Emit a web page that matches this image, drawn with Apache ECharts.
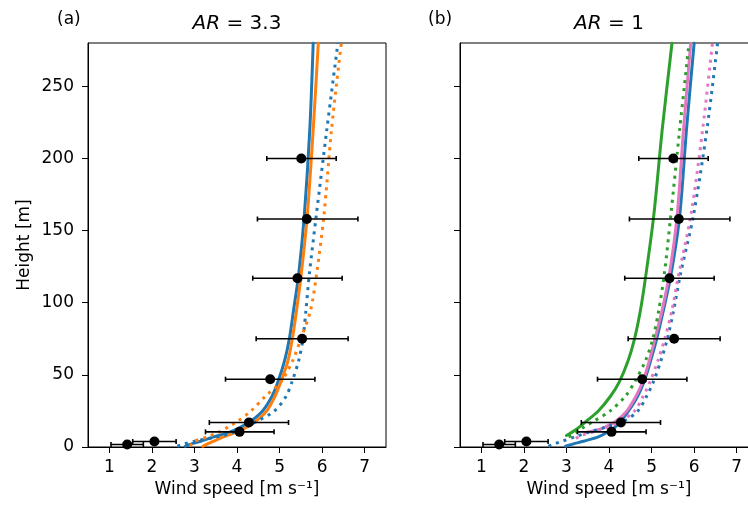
<!DOCTYPE html>
<html>
<head>
<meta charset="utf-8">
<script src="https://cdn.jsdelivr.net/npm/echarts@6/dist/echarts.min.js"></script>
<style>
  html, body { margin: 0; padding: 0; background: #fff; }
  #chart { width: 748px; height: 507px; }
</style>
</head>
<body>
<div id="chart"></div>
<script>
// heights [m] for the model profiles
const HEIGHTS = [0.5, 2, 4, 7, 10, 14, 18, 25, 35, 45, 60, 75, 95, 120, 160, 220, 280];

// (a) AR = 3.3 — wind speed [m/s] at HEIGHTS
const aBlueSolid = [2.78, 2.92, 3.15, 3.45, 3.8, 4.1, 4.33, 4.6, 4.82, 4.96, 5.12, 5.23, 5.33, 5.45, 5.58, 5.71, 5.79];
const aOrangeSolid = [3.2, 3.3, 3.45, 3.68, 3.95, 4.25, 4.45, 4.7, 4.89, 5.03, 5.2, 5.3, 5.4, 5.51, 5.65, 5.79, 5.91];
const aBlueDotted = [2.6, 2.75, 3.0, 3.52, 3.9, 4.18, 4.48, 4.88, 5.15, 5.29, 5.45, 5.55, 5.62, 5.7, 5.86, 6.11, 6.37];
const aOrangeDotted = [2.9, 2.93, 3.0, 3.3, 3.55, 3.8, 4.02, 4.33, 4.66, 5.03, 5.31, 5.5, 5.73, 5.87, 6.04, 6.22, 6.45];

// (b) AR = 1
const bBlueSolid = [2.98, 3.15, 3.4, 3.75, 3.95, 4.15, 4.28, 4.46, 4.67, 4.82, 4.98, 5.12, 5.28, 5.46, 5.66, 5.82, 6.0];
const bBlueDotted = [2.58, 2.7, 2.9, 3.2, 3.5, 3.95, 4.35, 4.68, 4.88, 5.04, 5.22, 5.37, 5.52, 5.68, 5.98, 6.3, 6.55];
const pinkSolidH = [10, 12, 14, 18, 25, 35, 45, 60, 75, 95, 120, 160, 220, 280];
const bPinkSolid = [3.45, 3.75, 3.92, 4.17, 4.42, 4.63, 4.79, 4.95, 5.08, 5.25, 5.42, 5.6, 5.75, 5.92];
const pinkDottedH = [6, 8, 12, 18, 25, 35, 45, 60, 75, 95, 120, 160, 220, 280];
const bPinkDotted = [3.22, 3.35, 3.8, 4.28, 4.6, 4.8, 4.96, 5.15, 5.31, 5.48, 5.64, 5.92, 6.2, 6.43];
const greenSolidH = [8, 12, 18, 25, 35, 45, 60, 75, 95, 120, 160, 220, 280];
const bGreenSolid = [3.0, 3.22, 3.47, 3.75, 4.03, 4.24, 4.45, 4.6, 4.74, 4.87, 5.05, 5.25, 5.48];
const greenDottedH = [7, 10, 14, 18, 25, 35, 45, 60, 75, 95, 120, 160, 220, 280];
const bGreenDotted = [3.05, 3.22, 3.42, 3.65, 4.03, 4.38, 4.6, 4.86, 5.03, 5.17, 5.3, 5.45, 5.66, 5.88];

// observations (same in both panels)
const obsH = [200, 158, 117, 75, 47, 17, 10.5, 3.8, 1.7];
const obsV = [5.51, 5.64, 5.42, 5.53, 4.78, 4.28, 4.06, 2.06, 1.42];
const obsLo = [4.70, 4.48, 4.37, 4.45, 3.73, 3.35, 3.26, 1.55, 1.04];
const obsHi = [6.33, 6.84, 6.47, 6.61, 5.83, 5.21, 4.87, 2.57, 1.80];

const X_TICKS = [1, 2, 3, 4, 5, 6, 7];
const Y_TICKS = [0, 50, 100, 150, 200, 250];

const FONT = 'DejaVu Sans';
const BLUE = '#1f77b4', ORANGE = '#ff7f0e', GREEN = '#2ca02c', PINK = '#e377c2';

const chart = echarts.init(document.getElementById('chart'), null, { renderer: 'canvas' });

function profile(name, idx, heights, values, color, dotted, z) {
  return {
    type: 'line',
    name,
    xAxisIndex: idx,
    yAxisIndex: idx,
    data: heights.map((h, i) => [values[i], h]),
    smooth: 0.3,
    showSymbol: false,
    symbol: 'none',
    animation: false,
    z: z,
    lineStyle: {
      color,
      width: 3,
      opacity: 1,
      type: dotted ? [3, 5] : 'solid',
      cap: dotted ? 'butt' : 'round',
      join: 'round'
    }
  }
}

function errorBars(idx) {
  return {
    type: 'custom',
    xAxisIndex: idx,
    yAxisIndex: idx,
    animation: false,
    z: 20,
    data: obsH.map((h, i) => [obsLo[i], obsHi[i], h]),
    encode: { x: [0, 1], y: 2 },
    renderItem: (params, api) => {
      const h = api.value(2)
      const p1 = api.coord([api.value(0), h])
      const p2 = api.coord([api.value(1), h])
      const st = { stroke: '#000', lineWidth: 1.6 }
      const cap = 2.5
      return {
        type: 'group',
        children: [
          { type: 'line', shape: { x1: p1[0], y1: p1[1], x2: p2[0], y2: p2[1] }, style: st },
          { type: 'line', shape: { x1: p1[0], y1: p1[1] - cap, x2: p1[0], y2: p1[1] + cap }, style: st },
          { type: 'line', shape: { x1: p2[0], y1: p2[1] - cap, x2: p2[0], y2: p2[1] + cap }, style: st }
        ]
      }
    }
  }
}

function obsPoints(idx) {
  return {
    type: 'scatter',
    xAxisIndex: idx,
    yAxisIndex: idx,
    animation: false,
    z: 30,
    symbol: 'circle',
    symbolSize: 10,
    itemStyle: { color: '#000', opacity: 1 },
    emphasis: { disabled: true },
    data: obsH.map((h, i) => [obsV[i], h])
  }
}

function xAxis(idx) {
  return {
    type: 'value',
    gridIndex: idx,
    min: 0.5,
    max: 7.5,
    name: 'Wind speed [m s⁻¹]',
    nameLocation: 'middle',
    nameGap: 34,
    nameTextStyle: { fontFamily: FONT, fontSize: 17, color: '#000' },
    axisLine: { show: true, lineStyle: { color: '#000', width: 1 } },
    axisTick: { show: true, customValues: X_TICKS, length: 6, lineStyle: { color: '#000', width: 1 } },
    axisLabel: { customValues: X_TICKS, margin: 12, fontFamily: FONT, fontSize: 17, color: '#000' },
    splitLine: { show: false }
  }
}

function yAxis(idx, labels) {
  return {
    type: 'value',
    gridIndex: idx,
    min: 0,
    max: 280,
    name: labels ? 'Height [m]' : '',
    nameLocation: 'middle',
    nameGap: 55,
    nameTextStyle: { fontFamily: FONT, fontSize: 17, color: '#000' },
    axisLine: { show: true, lineStyle: { color: '#000', width: 1 } },
    axisTick: { show: true, customValues: Y_TICKS, length: 6, lineStyle: { color: '#000', width: 1 } },
    axisLabel: { show: labels, customValues: Y_TICKS, margin: 14, fontFamily: FONT, fontSize: 17, color: '#000' },
    splitLine: { show: false }
  }
}

const titleStyle = {
  fontFamily: FONT, fontSize: 20, fontWeight: 'normal', color: '#000',
  rich: { i: { fontFamily: FONT, fontSize: 20, fontStyle: 'italic', color: '#000' } }
}

chart.setOption({
  backgroundColor: '#fff',
  animation: false,
  textStyle: { fontFamily: FONT },
  title: [
    { text: '{i|AR} = 3.3', left: 237, top: 14, textAlign: 'center', textStyle: titleStyle, padding: 0 },
    { text: '{i|AR} = 1', left: 609, top: 14, textAlign: 'center', textStyle: titleStyle, padding: 0 },
    { text: '(a)', left: 57, top: 11, padding: 0, textStyle: { fontFamily: FONT, fontSize: 17, fontWeight: 'normal', color: '#000' } },
    { text: '(b)', left: 428, top: 11, padding: 0, textStyle: { fontFamily: FONT, fontSize: 17, fontWeight: 'normal', color: '#000' } }
  ],
  grid: [
    { left: 88, top: 43, width: 298, height: 404, show: true, borderColor: '#000', borderWidth: 1, backgroundColor: 'transparent', outerBoundsMode: 'none' },
    { left: 460, top: 43, width: 298, height: 404, show: true, borderColor: '#000', borderWidth: 1, backgroundColor: 'transparent', outerBoundsMode: 'none' }
  ],
  xAxis: [xAxis(0), xAxis(1)],
  yAxis: [yAxis(0, true), yAxis(1, false)],
  series: [
    profile('a blue', 0, HEIGHTS, aBlueSolid, BLUE, false, 2),
    profile('a orange', 0, HEIGHTS, aOrangeSolid, ORANGE, false, 3),
    profile('a blue dotted', 0, HEIGHTS, aBlueDotted, BLUE, true, 4),
    profile('a orange dotted', 0, HEIGHTS, aOrangeDotted, ORANGE, true, 5),
    errorBars(0),
    obsPoints(0),

    profile('b blue', 1, HEIGHTS, bBlueSolid, BLUE, false, 2),
    profile('b green', 1, greenSolidH, bGreenSolid, GREEN, false, 3),
    profile('b pink', 1, pinkSolidH, bPinkSolid, PINK, false, 4),
    profile('b blue dotted', 1, HEIGHTS, bBlueDotted, BLUE, true, 5),
    profile('b pink dotted', 1, pinkDottedH, bPinkDotted, PINK, true, 6),
    profile('b green dotted', 1, greenDottedH, bGreenDotted, GREEN, true, 7),
    errorBars(1),
    obsPoints(1)
  ]
})
</script>
</body>
</html>
